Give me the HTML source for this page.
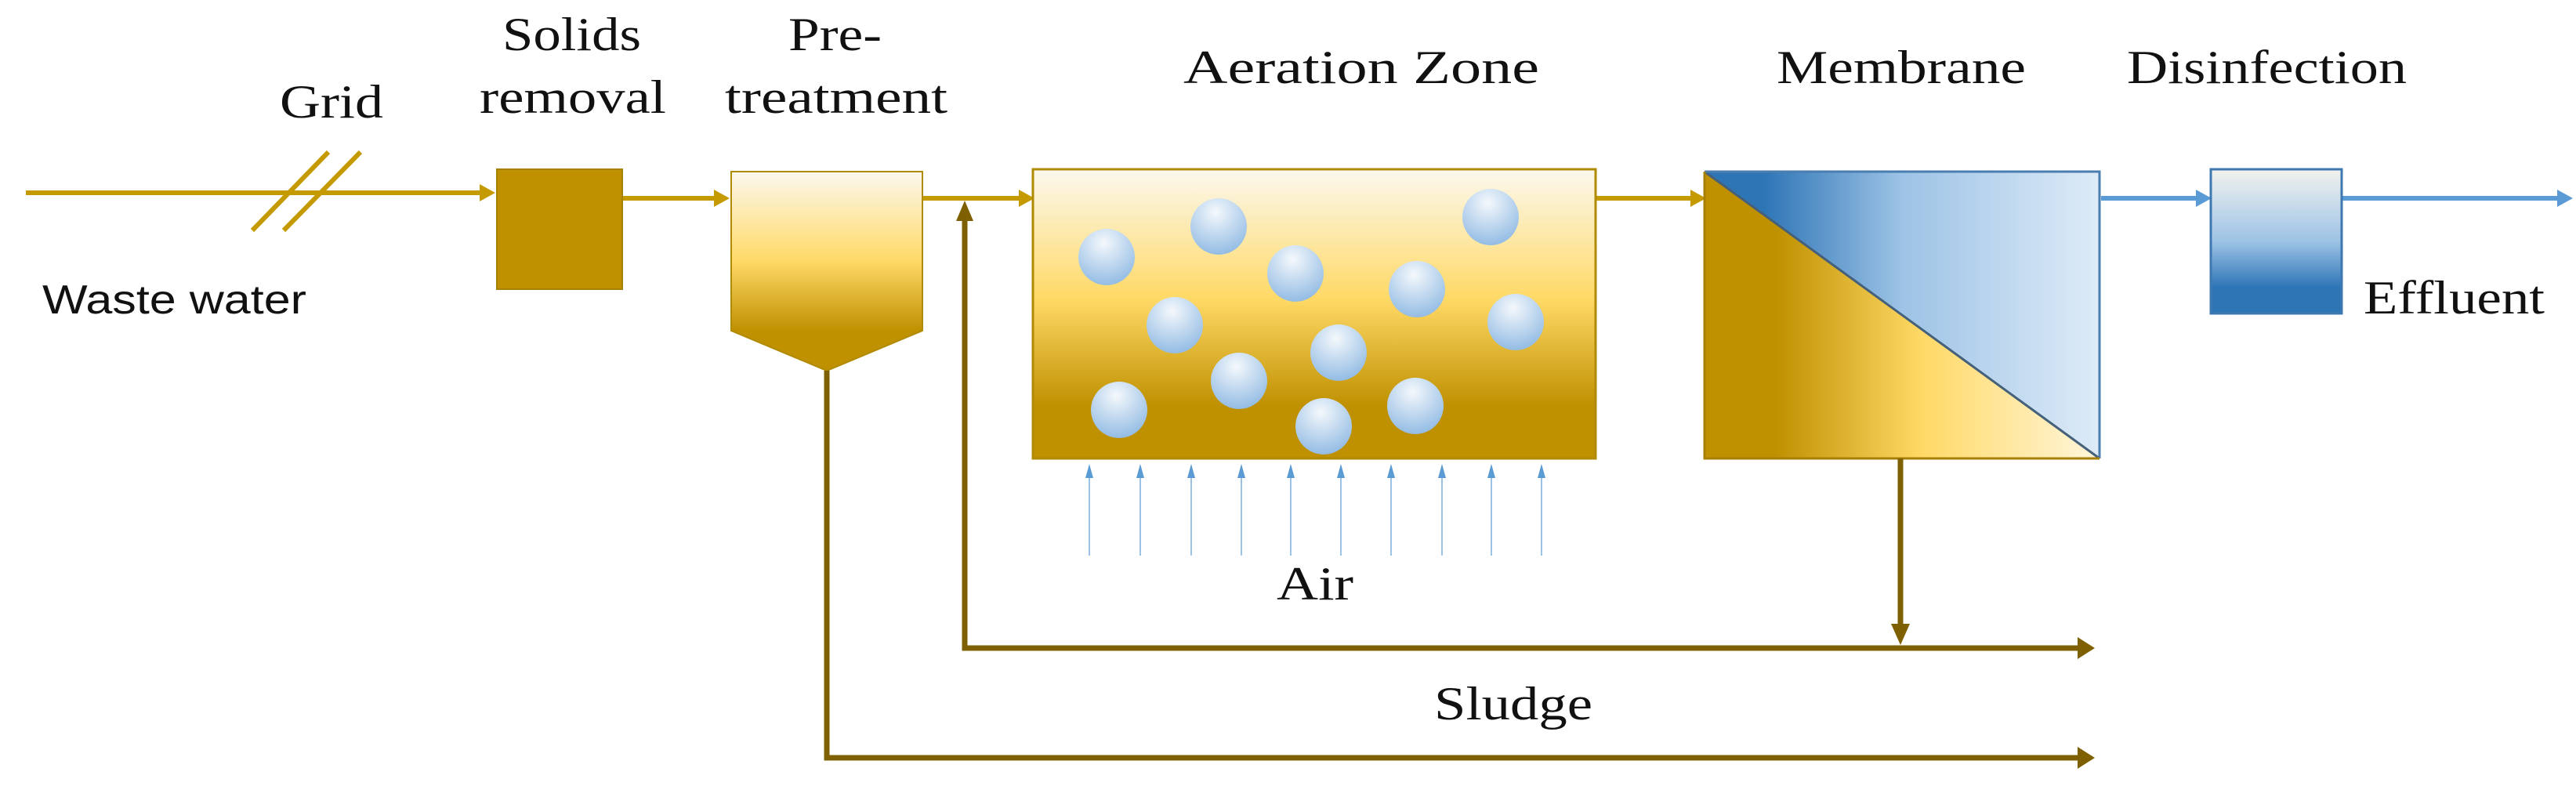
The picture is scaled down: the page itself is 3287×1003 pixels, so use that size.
<!DOCTYPE html>
<html><head><meta charset="utf-8"><style>html,body{margin:0;padding:0;background:#fff}svg{display:block}</style></head>
<body>
<svg width="3287" height="1003" viewBox="0 0 3287 1003" xmlns="http://www.w3.org/2000/svg">
<defs>
<linearGradient id="gv" x1="0" y1="0" x2="0" y2="1">
<stop offset="0" stop-color="#FBF8EE"/><stop offset="0.45" stop-color="#FFD966"/><stop offset="0.8" stop-color="#BF9000"/><stop offset="1" stop-color="#BF9000"/></linearGradient>
<linearGradient id="ga" x1="0" y1="0" x2="0" y2="1">
<stop offset="0" stop-color="#FBF8EE"/><stop offset="0.45" stop-color="#FFD966"/><stop offset="0.82" stop-color="#BF9000"/><stop offset="1" stop-color="#BF9000"/></linearGradient>
<linearGradient id="gmb" x1="0" y1="0" x2="1" y2="0">
<stop offset="0" stop-color="#2E75B6"/><stop offset="0.15" stop-color="#2E75B6"/><stop offset="0.5" stop-color="#9DC3E6"/><stop offset="1" stop-color="#DEEBF7"/></linearGradient>
<linearGradient id="gmy" x1="0" y1="0" x2="1" y2="0">
<stop offset="0" stop-color="#BF9000"/><stop offset="0.18" stop-color="#BF9000"/><stop offset="0.55" stop-color="#FFD966"/><stop offset="1" stop-color="#FFF6DC"/></linearGradient>
<linearGradient id="gd" x1="0" y1="0" x2="0" y2="1">
<stop offset="0" stop-color="#F2F2EE"/><stop offset="0.5" stop-color="#9DC3E6"/><stop offset="0.82" stop-color="#2E75B6"/><stop offset="1" stop-color="#2E75B6"/></linearGradient>
<radialGradient id="gb" cx="0.45" cy="0.25" r="0.8">
<stop offset="0" stop-color="#F4F8FC"/><stop offset="1" stop-color="#8DB8E2"/></radialGradient>
</defs>
<g font-family="Liberation Serif, serif" font-size="60" fill="#111" text-anchor="start">
<text x="357" y="150" textLength="132" lengthAdjust="spacingAndGlyphs">Grid</text>
<text x="641" y="64" textLength="177" lengthAdjust="spacingAndGlyphs">Solids</text>
<text x="612" y="144" textLength="238" lengthAdjust="spacingAndGlyphs">removal</text>
<text x="1006" y="64" textLength="119" lengthAdjust="spacingAndGlyphs">Pre-</text>
<text x="925" y="144" textLength="284" lengthAdjust="spacingAndGlyphs">treatment</text>
<text x="1510" y="106" textLength="454" lengthAdjust="spacingAndGlyphs">Aeration Zone</text>
<text x="2267" y="106" textLength="318" lengthAdjust="spacingAndGlyphs">Membrane</text>
<text x="2714" y="106" textLength="357" lengthAdjust="spacingAndGlyphs">Disinfection</text>
<text x="3016" y="400" textLength="231" lengthAdjust="spacingAndGlyphs">Effluent</text>
<text x="1629" y="765" textLength="98" lengthAdjust="spacingAndGlyphs">Air</text>
<text x="1830" y="918" textLength="202" lengthAdjust="spacingAndGlyphs">Sludge</text>
</g>
<text x="54" y="400" font-family="Liberation Sans, sans-serif" font-size="52" fill="#111" textLength="337" lengthAdjust="spacingAndGlyphs">Waste water</text>

<!-- main gold lines -->
<g stroke="#C49A00" stroke-width="6" fill="none">
<line x1="33" y1="246" x2="615" y2="246"/>
<line x1="322" y1="294" x2="419" y2="194"/>
<line x1="362" y1="294" x2="460" y2="194"/>
<line x1="794" y1="253" x2="915" y2="253"/>
<line x1="1177" y1="253" x2="1305" y2="253"/>
<line x1="2036" y1="253" x2="2160" y2="253"/>
</g>
<g fill="#C49A00">
<polygon points="632,246 612,235 612,257"/>
<polygon points="931,253 911,242 911,264"/>
<polygon points="1320,253 1300,242 1300,264"/>
<polygon points="2177,253 2157,242 2157,264"/>
</g>
<!-- blue lines -->
<g stroke="#5B9BD5" stroke-width="6">
<line x1="2681" y1="253" x2="2805" y2="253"/>
<line x1="2988" y1="253" x2="3265" y2="253"/>
</g>
<g fill="#5B9BD5">
<polygon points="2822,253 2802,242 2802,264"/>
<polygon points="3283,253 3263,242 3263,264"/>
</g>

<!-- solids box -->
<rect x="634" y="216" width="160" height="153" fill="#BF9000" stroke="#A88000" stroke-width="2"/>
<!-- pretreatment -->
<polygon points="933,219 1177,219 1177,422 1055,473 933,422" fill="url(#gv)" stroke="#B08A00" stroke-width="2"/>
<!-- aeration -->
<rect x="1318" y="216" width="718" height="369" fill="url(#ga)" stroke="#B08A00" stroke-width="3"/>
<g fill="url(#gb)">
<circle cx="1412" cy="328" r="36"/><circle cx="1555" cy="289" r="36"/><circle cx="1653" cy="349" r="36"/>
<circle cx="1499" cy="415" r="36"/><circle cx="1581" cy="486" r="36"/><circle cx="1428" cy="523" r="36"/>
<circle cx="1708" cy="450" r="36"/><circle cx="1689" cy="544" r="36"/><circle cx="1808" cy="369" r="36"/>
<circle cx="1806" cy="518" r="36"/><circle cx="1902" cy="277" r="36"/><circle cx="1934" cy="411" r="36"/>
</g>
<!-- air arrows -->
<g stroke="#9DC3E6" stroke-width="2">
<line x1="1390" y1="709" x2="1390" y2="600"/><line x1="1455" y1="709" x2="1455" y2="600"/>
<line x1="1520" y1="709" x2="1520" y2="600"/><line x1="1584" y1="709" x2="1584" y2="600"/>
<line x1="1647" y1="709" x2="1647" y2="600"/><line x1="1711" y1="709" x2="1711" y2="600"/>
<line x1="1775" y1="709" x2="1775" y2="600"/><line x1="1840" y1="709" x2="1840" y2="600"/>
<line x1="1903" y1="709" x2="1903" y2="600"/><line x1="1967" y1="709" x2="1967" y2="600"/>
</g>
<g fill="#5B9BD5">
<polygon points="1390,592 1385,610 1395,610"/><polygon points="1455,592 1450,610 1460,610"/>
<polygon points="1520,592 1515,610 1525,610"/><polygon points="1584,592 1579,610 1589,610"/>
<polygon points="1647,592 1642,610 1652,610"/><polygon points="1711,592 1706,610 1716,610"/>
<polygon points="1775,592 1770,610 1780,610"/><polygon points="1840,592 1835,610 1845,610"/>
<polygon points="1903,592 1898,610 1908,610"/><polygon points="1967,592 1962,610 1972,610"/>
</g>
<!-- membrane -->
<polygon points="2175,219 2679,219 2679,585" fill="url(#gmb)"/>
<polygon points="2175,219 2679,585 2175,585" fill="url(#gmy)"/>
<line x1="2175" y1="219" x2="2679" y2="585" stroke="#44607A" stroke-width="3"/>
<polyline points="2175,219 2679,219 2679,585" fill="none" stroke="#4A7DB0" stroke-width="3"/>
<polyline points="2175,219 2175,585 2679,585" fill="none" stroke="#A88000" stroke-width="3"/>
<!-- disinfection -->
<rect x="2821" y="216" width="167" height="184" fill="url(#gd)" stroke="#3F78B0" stroke-width="3"/>

<!-- sludge lines -->
<g stroke="#7F6000" stroke-width="7" fill="none">
<polyline points="1231,278 1231,827 2655,827"/>
<polyline points="1055,473 1055,967 2655,967"/>
<line x1="2425" y1="585" x2="2425" y2="800"/>
</g>
<g fill="#7F6000">
<polygon points="1231,256 1220,282 1242,282"/>
<polygon points="2673,827 2651,813 2651,841"/>
<polygon points="2673,967 2651,953 2651,981"/>
<polygon points="2425,823 2413,796 2437,796"/>
</g>
</svg>
</body></html>
